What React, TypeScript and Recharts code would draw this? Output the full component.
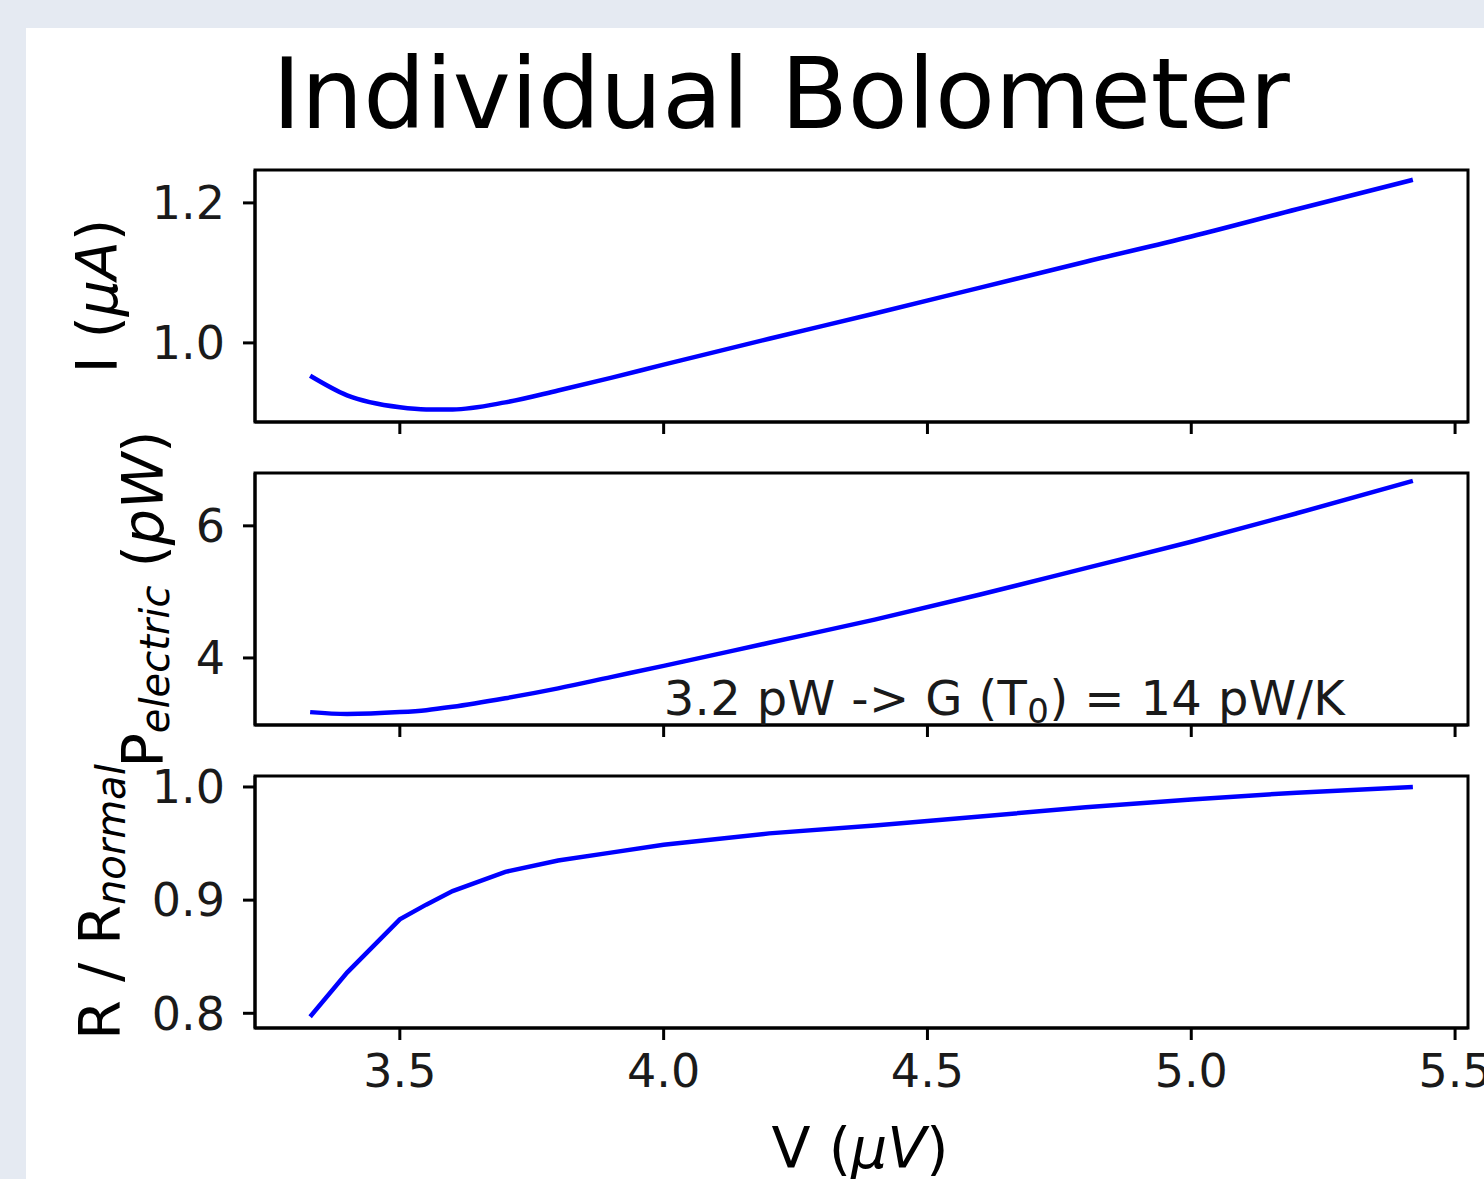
import React from 'react';
import { LineChart, Line, XAxis, YAxis, ReferenceArea, ReferenceDot } from 'recharts';

const voltage = [3.33, 3.4, 3.5, 3.55, 3.6, 3.7, 3.8, 3.9, 4.0, 4.2, 4.4, 4.6, 4.8, 5.0, 5.2, 5.42];
const current = [0.953, 0.925, 0.908, 0.905, 0.905, 0.915, 0.932, 0.95, 0.969, 1.006, 1.042, 1.079, 1.116, 1.152, 1.191, 1.233];
const power = [3.18, 3.15, 3.18, 3.21, 3.26, 3.39, 3.54, 3.71, 3.88, 4.23, 4.58, 4.96, 5.36, 5.76, 6.19, 6.68];
const resistance = [0.797, 0.836, 0.883, 0.896, 0.908, 0.925, 0.935, 0.942, 0.949, 0.959, 0.966, 0.974, 0.982, 0.989, 0.995, 1.0];

const xTicks = [3.5, 4.0, 4.5, 5.0, 5.5];
const currentTicks = [1.0, 1.2];
const powerTicks = [4, 6];
const resistanceTicks = [0.8, 0.9, 1.0];

const annotationPos = { v: 4.0, p: 3.13 };

const data = voltage.map((v, i) => ({
  v,
  current: current[i],
  power: power[i],
  resistance: resistance[i],
}));

const FONT = '"DejaVu Sans", sans-serif';
const X_DOMAIN: [number, number] = [3.2255, 5.5245];
const AXIS = { stroke: '#000', strokeWidth: 3 };
const TICK_FONT = { fill: '#1a1a1a', fontSize: 46, fontFamily: FONT };

interface PanelProps {
  top: number;
  height: number;
  xAxisHeight: number;
  dataKey: string;
  domain: [number, number];
  ticks: number[];
  format: (v: number) => string;
  showXLabels?: boolean;
  curve?: 'monotone' | 'linear';
  children?: React.ReactNode;
}

const Panel: React.FC<PanelProps> = ({ top, height, xAxisHeight, dataKey, domain, ticks, format, showXLabels, curve = 'monotone', children }) => (
  <div style={{ position: 'absolute', left: 0, top }}>
    <LineChart width={1484} height={height} data={data} margin={{ top: 20, right: 16, left: 0, bottom: 0 }}>
      <XAxis
        dataKey="v"
        type="number"
        domain={X_DOMAIN}
        ticks={xTicks}
        allowDataOverflow
        height={xAxisHeight}
        axisLine={AXIS}
        tickLine={AXIS}
        tickSize={12}
        tickMargin={14}
        tick={TICK_FONT}
        // upper panels share the x axis: keep the tick marks, drop the labels
        tickFormatter={(v: number) => (showXLabels ? v.toFixed(1) : '')}
      />
      <YAxis
        type="number"
        domain={domain}
        ticks={ticks}
        allowDataOverflow
        width={255}
        axisLine={AXIS}
        tickLine={AXIS}
        tickSize={12}
        tickMargin={18}
        tick={TICK_FONT}
        tickFormatter={format}
      />
      <ReferenceArea x1={X_DOMAIN[0]} x2={X_DOMAIN[1]} y1={domain[0]} y2={domain[1]} fill="none" stroke="#000" strokeWidth={3} />
      <Line type={curve} dataKey={dataKey} stroke="#0000ff" strokeWidth={4.5} dot={false} isAnimationActive={false} />
      {children}
    </LineChart>
  </div>
);

const annotation = (props: any) => (
  <text x={props.cx} y={props.cy} fontSize={48} fontFamily={FONT} fill="#1a1a1a" letterSpacing={0.4}>
    3.2 pW -&gt; G (T
    <tspan fontSize={34} dy={8}>0</tspan>
    <tspan dy={-8}>) = 14 pW/K</tspan>
  </text>
);

const App: React.FC = () => (
  <div style={{ position: 'absolute', left: 0, top: 0, width: 1484, height: 1179, background: '#e5eaf2', overflow: 'hidden' }}>
    <div style={{ position: 'absolute', left: 26, top: 28, width: 1458, height: 1151, background: '#fff' }} />

    <Panel top={150} height={300} xAxisHeight={28} dataKey="current" domain={[0.887, 1.247]} ticks={currentTicks} format={(v) => v.toFixed(1)} />
    <Panel top={453} height={300} xAxisHeight={28} dataKey="power" domain={[2.985, 6.8]} ticks={powerTicks} format={(v) => String(v)}>
      <ReferenceDot x={annotationPos.v} y={annotationPos.p} r={0} shape={annotation} />
    </Panel>
    <Panel top={756} height={423} xAxisHeight={151} dataKey="resistance" domain={[0.787, 1.0097]} ticks={resistanceTicks} format={(v) => v.toFixed(1)} showXLabels curve="linear" />

    {/* title and axis labels */}
    <svg width={1484} height={1179} style={{ position: 'absolute', left: 0, top: 0, pointerEvents: 'none' }} fontFamily={FONT} fill="#000">
      <text x={781} y={128} fontSize={98} textAnchor="middle">Individual Bolometer</text>
      <text x={117} y={296} fontSize={57} textAnchor="middle" transform="rotate(-90 117 296)">
        I (<tspan fontStyle="italic">μA</tspan>)
      </text>
      <text x={163} y={599} fontSize={57} textAnchor="middle" transform="rotate(-90 163 599)">
        P<tspan fontSize={40} fontStyle="italic" dy={6}>electric</tspan>
        <tspan dy={-6}> (</tspan>
        <tspan fontStyle="italic">pW</tspan>)
      </text>
      <text x={120} y={902} fontSize={57} textAnchor="middle" transform="rotate(-90 120 902)">
        R / R<tspan fontSize={40} fontStyle="italic" dy={5}>normal</tspan>
      </text>
      <text x={860} y={1168} fontSize={57} textAnchor="middle">
        V (<tspan fontStyle="italic">μV</tspan>)
      </text>
    </svg>
  </div>
);

export default App;
